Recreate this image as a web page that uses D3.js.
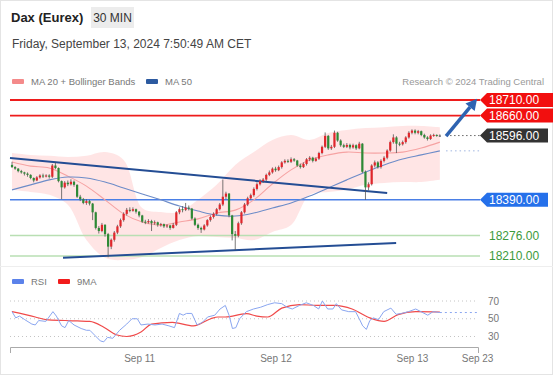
<!DOCTYPE html>
<html>
<head>
<meta charset="utf-8">
<script src="https://cdn.jsdelivr.net/npm/d3@7"></script>
<style>
  body { margin: 0; background: #fff; }
  svg { display: block; font-family: "Liberation Sans", Arial, sans-serif; }
</style>
</head>
<body>
<div id="chart"></div>
<script>
// ---- data ----
// 30 min candles: [open, high, low, close]
const candles = [
  [18502,18512,18492,18495],[18495,18498,18486,18490],[18490,18492,18478,18482],[18482,18486,18474,18478],
  [18478,18480,18468,18474],[18474,18478,18464,18470],[18470,18472,18456,18460],[18460,18462,18446,18452],
  [18452,18466,18450,18462],[18462,18472,18458,18468],[18468,18474,18460,18466],[18466,18472,18462,18468],
  [18468,18472,18458,18464],[18464,18505,18460,18500],[18500,18510,18488,18492],[18492,18494,18446,18450],
  [18450,18452,18392,18430],[18430,18450,18426,18445],[18445,18452,18434,18440],[18440,18456,18436,18448],
  [18448,18452,18432,18438],[18438,18440,18396,18400],[18400,18406,18386,18392],[18392,18396,18376,18380],
  [18380,18392,18374,18386],[18386,18390,18372,18378],[18378,18380,18325,18350],[18350,18352,18295,18300],
  [18300,18306,18282,18290],[18290,18316,18286,18310],[18310,18312,18272,18280],[18280,18284,18206,18240],
  [18240,18266,18232,18262],[18262,18290,18256,18285],[18285,18310,18280,18305],[18305,18330,18300,18325],
  [18325,18350,18320,18345],[18345,18364,18340,18358],[18358,18366,18350,18355],[18355,18366,18352,18360],
  [18360,18362,18346,18352],[18352,18354,18334,18340],[18340,18342,18316,18320],[18320,18326,18312,18318],
  [18318,18328,18314,18322],[18322,18326,18290,18315],[18315,18324,18310,18318],[18318,18320,18304,18310],
  [18310,18316,18304,18312],[18312,18314,18300,18305],[18305,18312,18300,18308],[18308,18310,18294,18300],
  [18300,18316,18298,18310],[18310,18354,18306,18350],[18350,18366,18344,18360],[18360,18370,18350,18358],
  [18358,18380,18354,18365],[18365,18372,18356,18362],[18362,18364,18326,18330],[18330,18334,18306,18310],
  [18310,18314,18294,18300],[18300,18304,18284,18295],[18295,18312,18292,18308],[18308,18328,18304,18325],
  [18325,18340,18320,18335],[18335,18350,18330,18345],[18345,18364,18340,18360],[18360,18380,18356,18375],
  [18375,18455,18370,18400],[18400,18416,18392,18410],[18410,18412,18334,18340],[18340,18342,18260,18280],
  [18280,18290,18229,18275],[18275,18320,18270,18315],[18315,18354,18310,18350],[18350,18380,18346,18375],
  [18375,18400,18370,18395],[18395,18410,18390,18405],[18405,18430,18400,18425],[18425,18446,18420,18440],
  [18440,18456,18436,18450],[18450,18460,18444,18455],[18455,18474,18450,18470],[18470,18484,18466,18478],
  [18478,18494,18474,18490],[18490,18496,18480,18485],[18485,18500,18482,18495],[18495,18514,18490,18510],
  [18510,18520,18506,18515],[18515,18520,18508,18512],[18512,18526,18508,18520],[18520,18524,18512,18516],
  [18516,18518,18496,18500],[18500,18506,18490,18495],[18495,18510,18492,18505],[18505,18524,18500,18520],
  [18520,18530,18514,18525],[18525,18528,18510,18515],[18515,18526,18512,18522],[18522,18544,18518,18540],
  [18540,18564,18536,18560],[18560,18606,18556,18595],[18595,18598,18550,18555],[18555,18566,18550,18560],
  [18560,18612,18556,18605],[18605,18608,18576,18580],[18580,18584,18560,18565],[18565,18570,18556,18560],
  [18560,18572,18556,18566],[18566,18570,18552,18558],[18558,18570,18554,18565],[18565,18568,18550,18555],
  [18555,18576,18552,18570],[18570,18572,18476,18480],[18480,18484,18390,18430],[18430,18446,18420,18440],
  [18440,18504,18436,18500],[18500,18516,18494,18510],[18510,18514,18490,18495],[18495,18520,18490,18515],
  [18515,18530,18510,18525],[18525,18552,18520,18548],[18548,18580,18544,18575],[18575,18600,18570,18590],
  [18590,18594,18540,18570],[18570,18576,18562,18568],[18568,18580,18564,18575],[18575,18594,18570,18590],
  [18590,18610,18586,18605],[18605,18616,18600,18612],[18612,18616,18600,18605],[18605,18614,18600,18610],
  [18610,18612,18594,18598],[18598,18602,18586,18590],[18590,18594,18580,18585],[18585,18600,18582,18596],
  [18596,18602,18592,18598],[18598,18600,18592,18596],[18596,18600,18592,18596]
];

// indicator samples, at candle index
const bandIdx = [0, 6, 12, 18, 24, 30, 36, 42, 48, 54, 60, 66, 72, 78, 84, 90, 96, 102, 108, 114, 120, 126, 132, 138];
const bbUpper = [18540,18534,18531,18527,18531,18543,18518,18364,18351,18351,18390,18438,18502,18543,18582,18598,18582,18604,18614,18620,18623,18627,18627,18623];
const ma20    = [18511,18498,18492,18466,18434,18390,18345,18319,18309,18319,18329,18348,18357,18390,18441,18486,18518,18534,18543,18540,18540,18543,18556,18575];
const bbLower = [18422,18415,18406,18374,18261,18204,18197,18207,18236,18261,18274,18271,18268,18261,18287,18309,18406,18415,18422,18438,18444,18447,18447,18454];
const ma50    = [18422,18438,18454,18463,18460,18447,18428,18409,18390,18370,18354,18341,18338,18348,18364,18380,18402,18428,18454,18479,18502,18521,18534,18547];

// key levels
const resistances = [18710, 18660];
const pivot = 18390;
const supports = [18276, 18210];
const lastPrice = 18596;

// hand drawn trend lines [index, price]
const trendUpper = [[-0.65, 18524], [121, 18412]];
const trendLower = [[16.45, 18204], [123.9, 18252]];
const arrowPath = [[140, 18594], [150, 18714]];

// RSI and its 9 period MA
const rsiIdx = [0,1.2,2.4,4.1,6.4,7.5,8.6,10.9,13.2,14.3,16,17.1,18.3,20,22.3,24,25.1,26.8,28.5,29.6,30.8,32.5,34.7,37,38.7,40.4,41.6,43.8,46.1,48.4,50.6,52.4,54,55.2,56.3,58,59.7,61.4,63.1,65.4,67.1,68.8,70,71.1,72.2,73.4,75.6,77.9,80.2,82.5,84.7,87,88.7,90.4,92.7,94.9,97.2,98.9,100.1,101.8,103.5,104.6,106.3,108.6,110.8,112,113.1,114.3,115.4,116.5,118.2,119.9,122.2,123.9,125.6,127.9,130.2,131.9,134.1,135.8,138];
const rsi    = [58,51,53,49,44,43,48,47,58,53,42,40,48,43,39,37,37,31,25,24,29,28,37,44,50,50,43,44,43,44,42,40,56,54,56,56,43,46,52,54,61,65,54,39,40,50,58,61,63,66,68,67,63,61,65,68,65,61,70,61,61,67,60,58,58,50,42,38,48,51,49,58,62,55,56,58,61,58,54,58,57];
const maIdx  = [0,7.5,10.9,17.1,21,25.1,29.6,33.6,37,41.6,45,51.7,58.5,64.1,66.4,68.8,75.6,79,82.5,87,92.7,98.4,104,109.7,115.4,120,124.5,130.2,138];
const rsiMa  = [58,52,49,48,47.5,47,40.5,32,30,35,44,46,42,50,52,52,55.7,53,52,62,66,65,65,61,51,47,54.6,58,57.6];
const rsiLevels = [70, 50, 30];

const dayIdx = [41, 85, 129, 150];
const dayLabels = ["Sep 11", "Sep 12", "Sep 13", "Sep 23"];

// ---- drawing ----
const W = 553, H = 375;
const labelX = 480;

const svg = d3.select("#chart").append("svg")
  .attr("width", W)
  .attr("height", H);

svg.append("rect")
  .attr("x", 0.5).attr("y", 0.5)
  .attr("width", W - 1).attr("height", H - 1)
  .attr("fill", "#fff")
  .attr("stroke", "#e4e4e4");

const x = d3.scaleLinear().domain([-0.65, 150.3]).range([10, 478]);
const y = d3.scaleLinear().domain([18210, 18710]).range([256, 100]);
const yR = d3.scaleLinear().domain([30, 70]).range([336.5, 301]);

// header
svg.append("text")
  .attr("x", 11).attr("y", 22)
  .attr("font-size", 13).attr("font-weight", "bold")
  .attr("fill", "#222")
  .text("Dax (Eurex)");

svg.append("rect")
  .attr("x", 91).attr("y", 7)
  .attr("width", 43).attr("height", 21)
  .attr("fill", "#ececec");

svg.append("text")
  .attr("x", 112.5).attr("y", 22)
  .attr("text-anchor", "middle")
  .attr("font-size", 12).attr("fill", "#333")
  .text("30 MIN");

svg.append("text")
  .attr("x", 12).attr("y", 48)
  .attr("font-size", 12).attr("fill", "#444")
  .text("Friday, September 13, 2024 7:50:49 AM CET");

// legend
function legendItem(g, lx, ly, color, label) {
  g.append("rect")
    .attr("x", lx).attr("y", ly - 2.5)
    .attr("width", 12).attr("height", 5)
    .attr("rx", 1)
    .attr("fill", color);
  g.append("text")
    .attr("x", lx + 19).attr("y", ly + 3.5)
    .attr("font-size", 9.5).attr("fill", "#777")
    .text(label);
}
legendItem(svg, 12, 81.5, "#f48a8a", "MA 20 + Bollinger Bands");
legendItem(svg, 146, 81.5, "#2c5aa0", "MA 50");

svg.append("text")
  .attr("x", 544).attr("y", 85)
  .attr("text-anchor", "end")
  .attr("font-size", 9.5).attr("fill", "#999")
  .text("Research \u00a9 2024 Trading Central");

// bollinger band
const bandData = bandIdx.map((d, i) => ({ i: d, up: bbUpper[i], lo: bbLower[i], mid: ma20[i], ma50: ma50[i] }));

svg.append("path")
  .datum(bandData)
  .attr("fill", "#ffdcdc")
  .attr("opacity", 0.75)
  .attr("d", d3.area()
    .x(d => x(d.i))
    .y0(d => y(d.lo))
    .y1(d => y(d.up))
    .curve(d3.curveCatmullRom));

// level lines
const main = svg.append("g");

function levelLine(price, color, width) {
  main.append("line")
    .attr("x1", 10).attr("x2", labelX)
    .attr("y1", y(price)).attr("y2", y(price))
    .attr("stroke", color)
    .attr("stroke-width", width);
}
resistances.forEach(p => levelLine(p, "#ee1c1c", 1.8));
levelLine(pivot, "#4a7fe6", 1.5);
supports.forEach(p => levelLine(p, "#b9dfb3", 1.5));

// moving averages
svg.append("path")
  .datum(bandData)
  .attr("fill", "none")
  .attr("stroke", "#f6a3a3")
  .attr("stroke-width", 1.1)
  .attr("d", d3.line().x(d => x(d.i)).y(d => y(d.mid)).curve(d3.curveCatmullRom));

svg.append("path")
  .datum(bandData)
  .attr("fill", "none")
  .attr("stroke", "#6d8cc8")
  .attr("stroke-width", 1.1)
  .attr("d", d3.line().x(d => x(d.i)).y(d => y(d.ma50)).curve(d3.curveCatmullRom));

// dotted extensions to the labels
const lastIdx = candles.length - 1;
svg.append("line")
  .attr("x1", x(lastIdx + 2)).attr("x2", labelX)
  .attr("y1", y(ma50[ma50.length - 1])).attr("y2", y(ma50[ma50.length - 1]))
  .attr("stroke", "#9fb4e0")
  .attr("stroke-dasharray", "1.5,3");

svg.append("line")
  .attr("x1", x(lastIdx + 2)).attr("x2", labelX)
  .attr("y1", y(lastPrice)).attr("y2", y(lastPrice))
  .attr("stroke", "#666")
  .attr("stroke-dasharray", "1.5,2.5");

// trend lines
[trendUpper, trendLower].forEach(t => {
  svg.append("path")
    .datum(t)
    .attr("fill", "none")
    .attr("stroke", "#244d94")
    .attr("stroke-width", 2)
    .attr("d", d3.line().x(d => x(d[0])).y(d => y(d[1])));
});

// candles
const cg = svg.append("g");
candles.forEach((c, i) => {
  const [o, h, l, cl] = c;
  const cx = x(i);
  cg.append("line")
    .attr("x1", cx).attr("x2", cx)
    .attr("y1", y(h)).attr("y2", y(l))
    .attr("stroke", "#555")
    .attr("stroke-width", 0.8);
  const top = y(Math.max(o, cl));
  const hgt = Math.max(1, Math.abs(y(o) - y(cl)));
  cg.append("rect")
    .attr("x", cx - 1.1).attr("y", top)
    .attr("width", 2.2).attr("height", hgt)
    .attr("fill", cl > o ? "#e0262b" : (cl < o ? "#2d8a35" : "#555"));
});

// arrow
const ax0 = x(arrowPath[0][0]), ay0 = y(arrowPath[0][1]);
const ax1 = x(arrowPath[1][0]), ay1 = y(arrowPath[1][1]);
const ang = Math.atan2(ay1 - ay0, ax1 - ax0);
const headLen = 11, headW = 6;
const bx = ax1 - headLen * Math.cos(ang), by = ay1 - headLen * Math.sin(ang);
svg.append("line")
  .attr("x1", ax0).attr("y1", ay0)
  .attr("x2", bx).attr("y2", by)
  .attr("stroke", "#2e63b1")
  .attr("stroke-width", 3.5);
svg.append("path")
  .attr("d", `M${ax1},${ay1} L${bx + headW * Math.sin(ang)},${by - headW * Math.cos(ang)} L${bx - headW * Math.sin(ang)},${by + headW * Math.cos(ang)} Z`)
  .attr("fill", "#2e63b1");

// price labels
function priceTag(price, color, right) {
  const py = y(price);
  svg.append("path")
    .attr("d", `M${labelX},${py} L${labelX + 7},${py - 7} L${right},${py - 7} L${right},${py + 7} L${labelX + 7},${py + 7} Z`)
    .attr("fill", color);
  svg.append("text")
    .attr("x", labelX + 9).attr("y", py + 4.2)
    .attr("font-size", 12).attr("fill", "#fff")
    .text(price.toFixed(2));
}
resistances.forEach(p => priceTag(p, "#f20f0f", 553));
priceTag(lastPrice, "#333333", 548);
priceTag(pivot, "#2570ea", 548);

supports.forEach(p => {
  svg.append("text")
    .attr("x", labelX + 9).attr("y", y(p) + 4.2)
    .attr("font-size", 12).attr("fill", "#3c9a3c")
    .text(p.toFixed(2));
});

// separator
svg.append("line")
  .attr("x1", 0).attr("x2", W)
  .attr("y1", 266.5).attr("y2", 266.5)
  .attr("stroke", "#eeeeee");

// RSI panel
legendItem(svg, 12, 281.5, "#5b82ea", "RSI");
legendItem(svg, 58, 281.5, "#f21c1c", "9MA");

rsiLevels.forEach(v => {
  svg.append("line")
    .attr("x1", 10).attr("x2", 477)
    .attr("y1", yR(v)).attr("y2", yR(v))
    .attr("stroke", "#c4c4c4")
    .attr("stroke-dasharray", "1,3");
  svg.append("text")
    .attr("x", 488).attr("y", yR(v) + 3.5)
    .attr("font-size", 10).attr("fill", "#777")
    .text(v);
});

const rsiData = rsiIdx.map((d, i) => ({ i: d, v: rsi[i] }));
const maData = maIdx.map((d, i) => ({ i: d, v: rsiMa[i] }));

svg.append("path")
  .datum(maData)
  .attr("fill", "none")
  .attr("stroke", "#f04a4a")
  .attr("stroke-width", 1.2)
  .attr("d", d3.line().x(d => x(d.i)).y(d => yR(d.v)).curve(d3.curveMonotoneX));

svg.append("path")
  .datum(rsiData)
  .attr("fill", "none")
  .attr("stroke", "#8aa6f0")
  .attr("stroke-width", 1)
  .attr("d", d3.line().x(d => x(d.i)).y(d => yR(d.v)));

const rsiLast = rsi[rsi.length - 1];
svg.append("line")
  .attr("x1", x(rsiIdx[rsiIdx.length - 1])).attr("x2", 477)
  .attr("y1", yR(rsiLast)).attr("y2", yR(rsiLast))
  .attr("stroke", "#8aa6f0")
  .attr("stroke-dasharray", "2,3");

// x axis
const xAxis = svg.append("g")
  .attr("transform", "translate(0,347)")
  .call(d3.axisBottom(x)
    .tickValues(dayIdx)
    .tickFormat((d, i) => dayLabels[i])
    .tickSizeInner(0)
    .tickSizeOuter(6)
    .tickPadding(8));

xAxis.select(".domain").attr("stroke", "#aaa");
xAxis.selectAll("text")
  .attr("font-size", 10)
  .attr("font-family", "Liberation Sans, Arial, sans-serif")
  .attr("fill", "#777");
</script>
</body>
</html>
